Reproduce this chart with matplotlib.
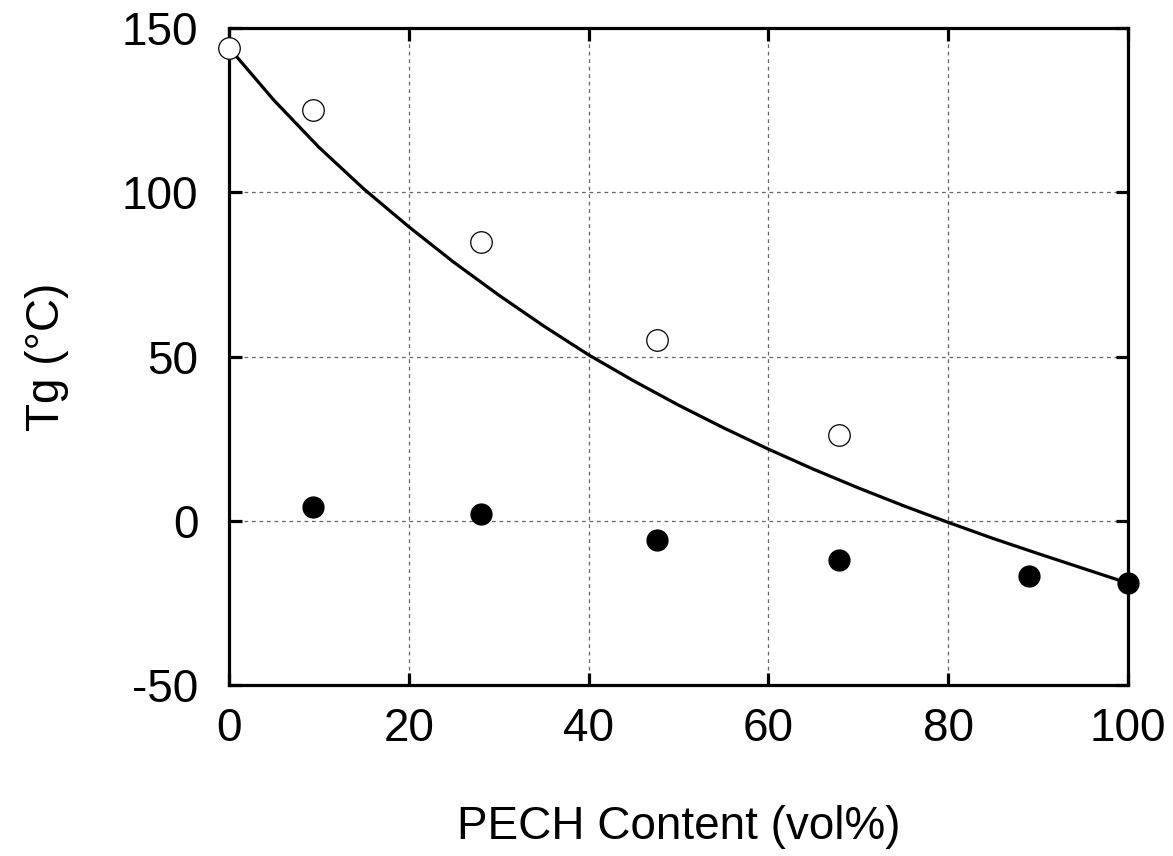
import matplotlib
matplotlib.use("Agg")
import matplotlib.pyplot as plt

plt.rcParams['font.family'] = ['Liberation Sans', 'DejaVu Sans']
plt.rcParams['axes.unicode_minus'] = False

# Data
open_x = [0, 9.3, 28, 47.6, 67.9]
open_y = [144, 125, 85, 55, 26]

filled_x = [9.3, 28, 47.6, 67.9, 89, 100]
filled_y = [4.2, 2.1, -5.8, -11.9, -16.8, -18.9]

curve_x = [0, 5, 10, 15, 20, 25, 30, 35, 40, 45, 50, 55, 60, 65, 70, 75, 80, 85, 90, 95, 100]
curve_y = [144, 128, 113.7, 101, 89.5, 78.7, 68.7, 59.3, 50.5, 42.6, 35.2, 28.3, 21.8, 15.7, 10, 4.6, -0.5, -5.4, -10, -14.5, -19]

xticks = [0, 20, 40, 60, 80, 100]
yticks = [-50, 0, 50, 100, 150]

fig = plt.figure(figsize=(11.73, 8.56), dpi=100)
ax = fig.add_axes([229/1173, 1-685/856, (1128-229)/1173, (685-28)/856])

ax.plot(curve_x, curve_y, color='black', lw=2.3, zorder=3, clip_on=False)
ax.plot(open_x, open_y, 'o', ms=15.5, mfc='white', mec='black', mew=0.9, zorder=5, clip_on=False)
ax.plot(filled_x, filled_y, 'o', ms=15, mfc='black', mec='black', zorder=5, clip_on=False)

ax.set_xlim(0, 100)
ax.set_ylim(-50, 150)
ax.set_xticks(xticks)
ax.set_yticks(yticks)
ax.grid(True, color='#666666', linestyle=(0, (3, 3)), linewidth=0.9)

for s in ax.spines.values():
    s.set_linewidth(2.3)
ax.tick_params(direction='in', length=9, width=2.3, top=True, right=True,
               labelsize=33, pad=16)
ax.tick_params(axis='y', pad=22)

ax.set_xlabel('PECH Content (vol%)', fontsize=33, labelpad=39)
ax.set_ylabel('Tg (°C)', fontsize=33, labelpad=38)

fig.savefig('out.png', dpi=100)
